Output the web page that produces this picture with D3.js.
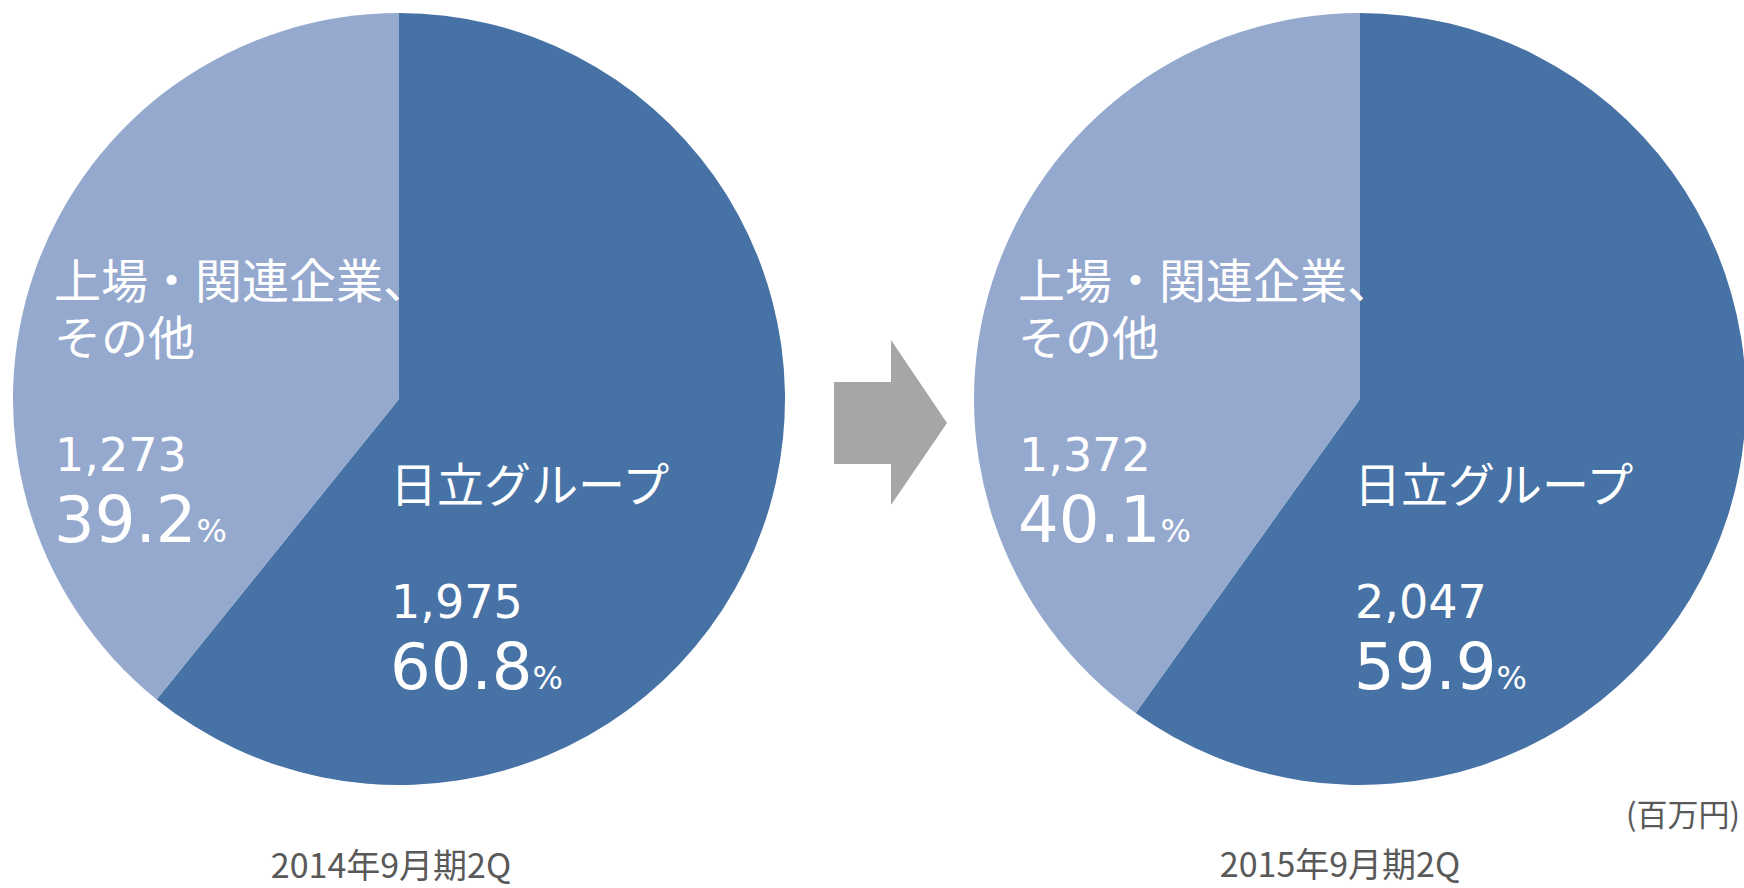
<!DOCTYPE html>
<meta charset="utf-8">
<script src="https://cdn.jsdelivr.net/npm/d3@7"></script>
<style>
  body { margin: 0; background: #fff; }
  svg { display: block; }
  .num { font-family: "DejaVu Sans", "Noto Sans CJK JP", sans-serif; fill: #fff; }
  .cat { font-family: "Noto Sans CJK JP", sans-serif; fill: #fff; }
  .period, .unit { font-family: "Noto Sans CJK JP", sans-serif; fill: #595959; }
</style>
<body>
<div id="chart"></div>
<script>
// ---------------- data ----------------
const periods = ["2014年9月期2Q", "2015年9月期2Q"];
const categoryLines = [["日立グループ"], ["上場・関連企業、", "その他"]];
const values2014 = [1975, 1273];
const values2015 = [2047, 1372];
const shares2014 = [60.8, 39.2];
const shares2015 = [59.9, 40.1];
const unitLabel = "(百万円)";
const sliceColors = ["#4672a6", "#95a9cf"];

// ---------------- layout ----------------
const width = 1744, height = 888;
const pieCx = [399, 1360], pieCy = 399, radius = 386;
const pieShift = [-5, -2];   // small nudge of the text block per pie
// where each slice's text block starts, relative to the pie centre
const labelPos = [{dx: -4, dy: 103}, {dx: -340, dy: -101.5}];
const lineGap = 57;

const svg = d3.select("#chart").append("svg")
    .attr("width", width)
    .attr("height", height);

const color = d3.scaleOrdinal().domain([0, 1]).range(sliceColors);
const pie = d3.pie().sort(null).value(d => d);
const arc = d3.arc().innerRadius(0).outerRadius(radius);

const datasets = [
  {period: periods[0], values: values2014, shares: shares2014},
  {period: periods[1], values: values2015, shares: shares2015}
];

datasets.forEach(function(ds, k) {
  const g = svg.append("g")
      .attr("transform", "translate(" + pieCx[k] + "," + pieCy + ")");

  g.selectAll("path")
    .data(pie(ds.values))
    .enter().append("path")
      .attr("d", arc)
      .attr("fill", (d, i) => color(i));

  // slice labels
  ds.values.forEach(function(v, i) {
    const x = labelPos[i].dx + pieShift[k];
    const y = labelPos[i].dy;
    const lines = categoryLines[i];
    const cat = g.append("text")
      .attr("class", "cat")
      .attr("x", x)
      .attr("y", y)
      .style("font-size", "47px");
    lines.forEach(function(t, j) {
      cat.append("tspan")
        .attr("x", x)
        .attr("dy", j === 0 ? 0 : lineGap)
        .text(t);
    });
    const lastY = y + (lines.length - 1) * lineGap;
    g.append("text")
      .attr("class", "num")
      .attr("x", x + 1)
      .attr("y", lastY + 116)
      .style("font-size", "46px")
      .text(d3.format(",")(v));
    const pct = g.append("text")
      .attr("class", "num")
      .attr("x", x)
      .attr("y", lastY + 187);
    pct.append("tspan").style("font-size", "64px").text(ds.shares[i].toFixed(1));
    pct.append("tspan").style("font-size", "32px").text("%");
  });

  svg.append("text")
    .attr("class", "period")
    .attr("x", pieCx[k] - 8 - k * 12)
    .attr("y", 878 - k)
    .attr("text-anchor", "middle")
    .style("font-size", "34px")
    .text(ds.period);
});

// arrow between the two pies
const arrowPts = [[834, 382], [891, 382], [891, 340], [947, 423], [891, 505], [891, 464], [834, 464]];
svg.append("path")
  .attr("d", d3.line()(arrowPts) + "Z")
  .attr("fill", "#a6a6a6");

svg.append("text")
  .attr("class", "unit")
  .attr("x", 1740)
  .attr("y", 826)
  .attr("text-anchor", "end")
  .style("font-size", "31px")
  .text(unitLabel);
</script>
</body>
